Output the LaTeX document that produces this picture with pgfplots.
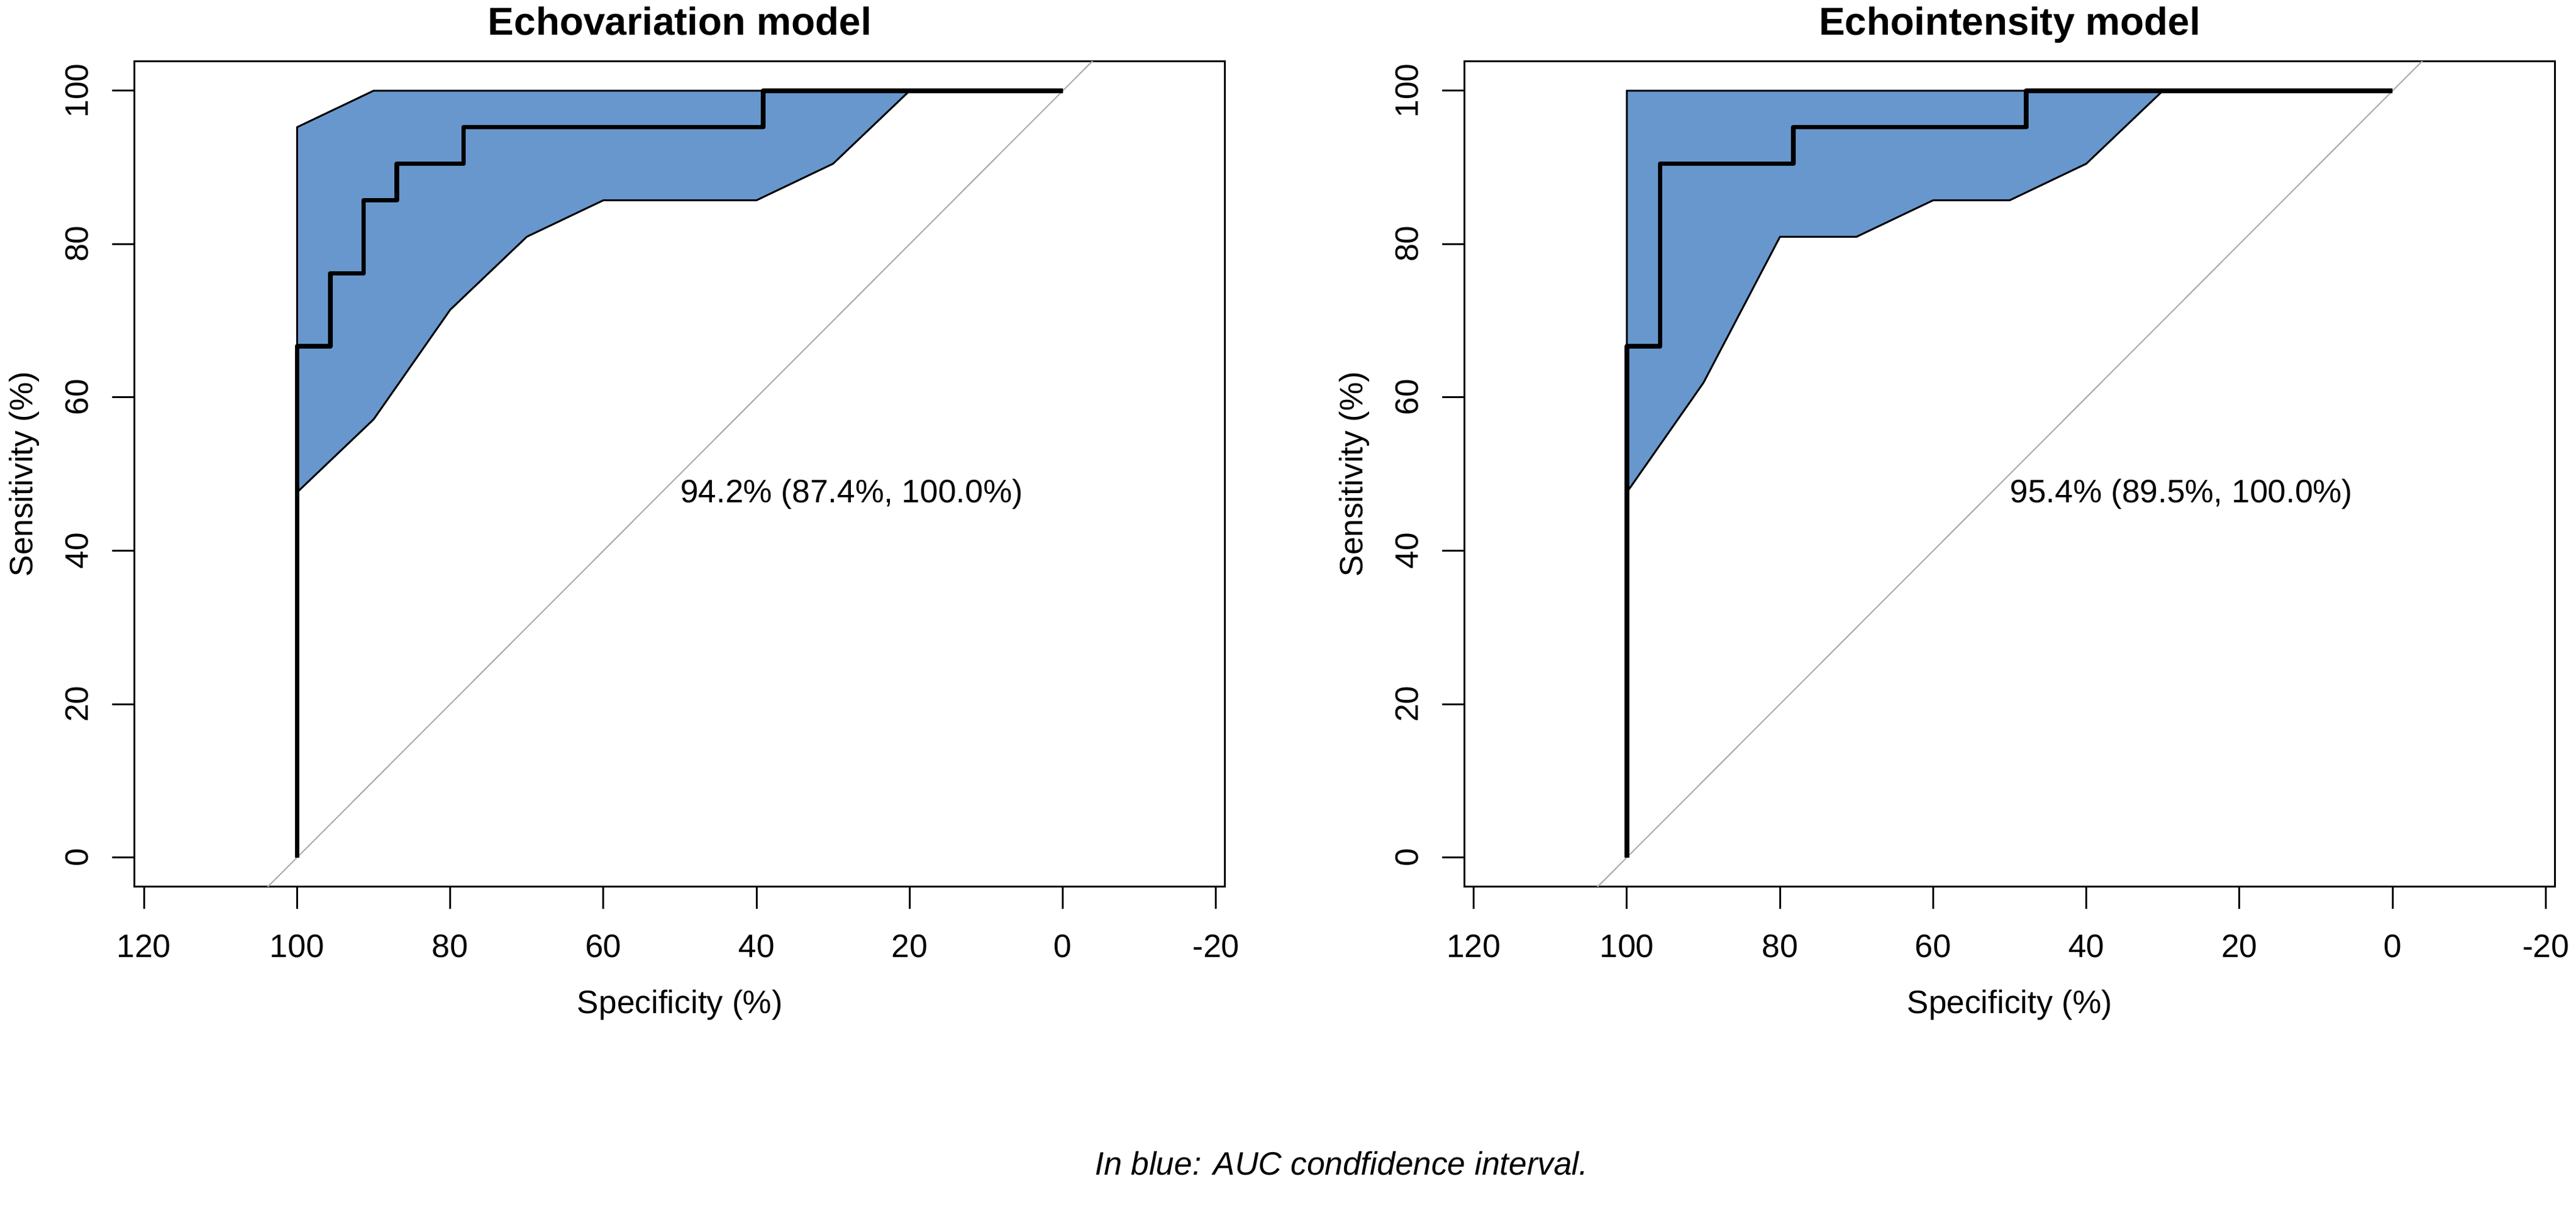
\documentclass[border=0pt]{standalone}
\usepackage{fontspec}
\setmainfont{Liberation Sans}
\usepackage{pgfplots}
\pgfplotsset{compat=1.18}

\definecolor{cifill}{RGB}{104,151,205}
\definecolor{diag}{RGB}{169,169,169}
\newcommand\rfont{\fontsize{13.3pt}{16pt}\selectfont}

\pgfplotsset{
  rocaxis/.style={
    scale only axis, width=447.25pt, height=338.375pt,
    x dir=reverse,
    xmin=-21.2, xmax=121.2, ymin=-3.8, ymax=103.8,
    axis line style={line width=0.75pt},
    xtick={-20,0,20,40,60,80,100,120},
    xticklabels={-20,0,20,40,60,80,100,120},
    ytick={0,20,40,60,80,100},
    yticklabels={0,20,40,60,80,100},
    xtick pos=left, ytick pos=left,
    tick align=outside, major tick length=9.2pt,
    every tick/.style={black, line width=0.75pt},
    tick label style={font=\rfont},
    xticklabel style={anchor=base},
    yticklabel style={rotate=90, anchor=base},
    xticklabel shift=19.9pt,
    yticklabel shift=9.8pt,
    label style={font=\rfont},
    xlabel={Specificity (\%)},
    ylabel={Sensitivity (\%)},
    xlabel style={at={(axis description cs:0.5,-0.15368)}, anchor=base},
    ylabel style={at={(axis description cs:-0.09357,0.5)}, anchor=base},
    title style={font=\bfseries\fontsize{16pt}{19pt}\selectfont,
      at={(0.5,1)}, anchor=base, yshift=4.75pt},
  },
  band/.style={fill=cifill, draw=black, line width=0.75pt},
  roc/.style={black, line width=1.9pt, line join=round},
  chance/.style={diag, line width=0.5pt},
}

\begin{document}
\begin{tikzpicture}
\path[use as bounding box] (0,0) rectangle (1056.5pt,496pt);

% Echovariation
\begin{axis}[rocaxis, at={(55.25pt,132.375pt)}, anchor=south west,
  title={Echovariation model}]
\addplot[band] coordinates {
  (100,95.24) (90,100) (80,100) (70,100) (60,100) (50,100)
  (40,100) (30,100) (20,100) (10,100) (0,100)
  (10,100) (20,100) (30,90.48) (40,85.71) (50,85.71) (60,85.71)
  (70,80.95) (80,71.43) (90,57.14) (100,47.62)
} -- cycle;
\addplot[chance] coordinates {(110,-10) (-10,110)};
\addplot[roc] coordinates {
  (100,0) (100,66.67) (95.65,66.67) (95.65,76.19) (91.30,76.19)
  (91.30,85.71) (86.96,85.71) (86.96,90.48) (78.26,90.48)
  (78.26,95.24) (39.13,95.24) (39.13,100) (0,100)
};
\node[anchor=north west, inner sep=0pt, font=\rfont]
  at (axis cs:50,49.4) {94.2\% (87.4\%, 100.0\%)};
\end{axis}

% Echointensity
\begin{axis}[rocaxis, at={(600.625pt,132.375pt)}, anchor=south west,
  title={Echointensity model}]
\addplot[band] coordinates {
  (100,100) (90,100) (80,100) (70,100) (60,100) (50,100)
  (40,100) (30,100) (20,100) (10,100) (0,100)
  (10,100) (20,100) (30,100) (40,90.48) (50,85.71) (60,85.71)
  (70,80.95) (80,80.95) (90,61.90) (100,47.62)
} -- cycle;
\addplot[chance] coordinates {(110,-10) (-10,110)};
\addplot[roc] coordinates {
  (100,0) (100,66.67) (95.65,66.67) (95.65,90.48) (78.26,90.48)
  (78.26,95.24) (47.83,95.24) (47.83,100) (0,100)
};
\node[anchor=north west, inner sep=0pt, font=\rfont]
  at (axis cs:50,49.4) {95.4\% (89.5\%, 100.0\%)};
\end{axis}

\node[anchor=base, font=\rfont\itshape] at (550.25pt,14.25pt)
  {In blue: AUC condfidence interval.};
\end{tikzpicture}
\end{document}
